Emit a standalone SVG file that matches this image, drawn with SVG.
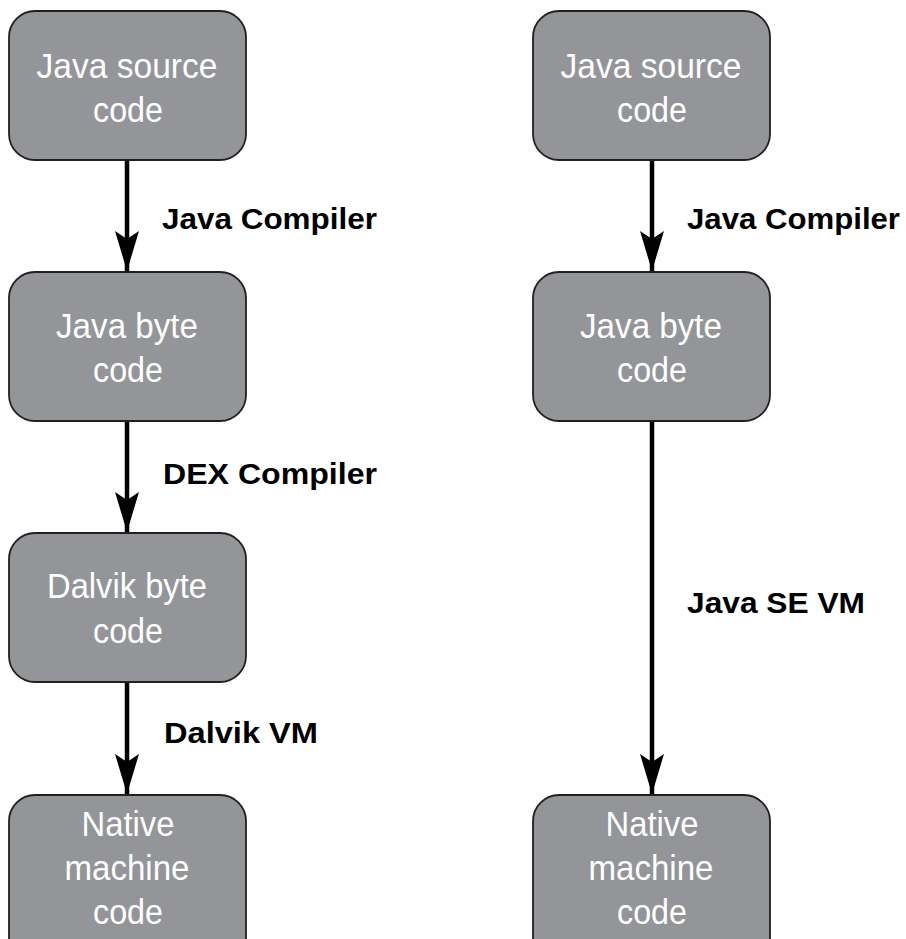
<svg xmlns="http://www.w3.org/2000/svg" width="906" height="939" viewBox="0 0 906 939">
<style>
.box{fill:#939598;stroke:#231f20;stroke-width:1.8}
.t{fill:#ffffff;font-family:"Liberation Sans",Arial,sans-serif;font-size:35px;text-anchor:middle}
.lbl{fill:#000000;font-family:"Liberation Sans",Arial,sans-serif;font-weight:bold;font-size:29px}
.ln{stroke:#000000;stroke-width:4.5;fill:none}
</style>
<defs>
<marker id="ah" markerUnits="userSpaceOnUse" viewBox="0 0 40 24" refX="40" refY="12" markerWidth="40" markerHeight="24" orient="auto">
<path d="M0,0 L40,12 L0,24 L8,12 Z" fill="#000000"/>
</marker>
</defs>
<g id="connectors">
<line class="ln" x1="127" y1="160" x2="127" y2="271" marker-end="url(#ah)"/>
<line class="ln" x1="127" y1="421" x2="127" y2="532" marker-end="url(#ah)"/>
<line class="ln" x1="127" y1="682" x2="127" y2="794" marker-end="url(#ah)"/>
<line class="ln" x1="652" y1="160" x2="652" y2="271" marker-end="url(#ah)"/>
<line class="ln" x1="652" y1="421" x2="652" y2="794" marker-end="url(#ah)"/>
<text class="lbl" x="162" y="229" textLength="215" lengthAdjust="spacingAndGlyphs">Java Compiler</text>
<text class="lbl" x="163" y="484" textLength="214" lengthAdjust="spacingAndGlyphs">DEX Compiler</text>
<text class="lbl" x="164" y="743" textLength="154" lengthAdjust="spacingAndGlyphs">Dalvik VM</text>
<text class="lbl" x="687" y="229" textLength="213" lengthAdjust="spacingAndGlyphs">Java Compiler</text>
<text class="lbl" x="687" y="613" textLength="178" lengthAdjust="spacingAndGlyphs">Java SE VM</text>
</g>
<g id="l-src">
<rect class="box" x="9" y="11" width="237" height="149" rx="26"/>
<text class="t" x="127" y="78" textLength="181" lengthAdjust="spacingAndGlyphs">Java source</text>
<text class="t" x="128" y="122" textLength="70" lengthAdjust="spacingAndGlyphs">code</text>
</g>
<g id="l-byte">
<rect class="box" x="9" y="272" width="237" height="149" rx="26"/>
<text class="t" x="127" y="338" textLength="142" lengthAdjust="spacingAndGlyphs">Java byte</text>
<text class="t" x="128" y="382" textLength="70" lengthAdjust="spacingAndGlyphs">code</text>
</g>
<g id="l-dalvik">
<rect class="box" x="9" y="533" width="237" height="149" rx="26"/>
<text class="t" x="127" y="598" textLength="160" lengthAdjust="spacingAndGlyphs">Dalvik byte</text>
<text class="t" x="128" y="643" textLength="70" lengthAdjust="spacingAndGlyphs">code</text>
</g>
<g id="l-native">
<rect class="box" x="9" y="795" width="237" height="170" rx="26"/>
<text class="t" x="128" y="836" textLength="93" lengthAdjust="spacingAndGlyphs">Native</text>
<text class="t" x="127" y="880" textLength="125" lengthAdjust="spacingAndGlyphs">machine</text>
<text class="t" x="128" y="924" textLength="70" lengthAdjust="spacingAndGlyphs">code</text>
</g>
<g id="r-src">
<rect class="box" x="533" y="11" width="237" height="149" rx="26"/>
<text class="t" x="651" y="78" textLength="181" lengthAdjust="spacingAndGlyphs">Java source</text>
<text class="t" x="652" y="122" textLength="70" lengthAdjust="spacingAndGlyphs">code</text>
</g>
<g id="r-byte">
<rect class="box" x="533" y="272" width="237" height="149" rx="26"/>
<text class="t" x="651" y="338" textLength="142" lengthAdjust="spacingAndGlyphs">Java byte</text>
<text class="t" x="652" y="382" textLength="70" lengthAdjust="spacingAndGlyphs">code</text>
</g>
<g id="r-native">
<rect class="box" x="533" y="795" width="237" height="170" rx="26"/>
<text class="t" x="652" y="836" textLength="93" lengthAdjust="spacingAndGlyphs">Native</text>
<text class="t" x="651" y="880" textLength="125" lengthAdjust="spacingAndGlyphs">machine</text>
<text class="t" x="652" y="924" textLength="70" lengthAdjust="spacingAndGlyphs">code</text>
</g>
</svg>
